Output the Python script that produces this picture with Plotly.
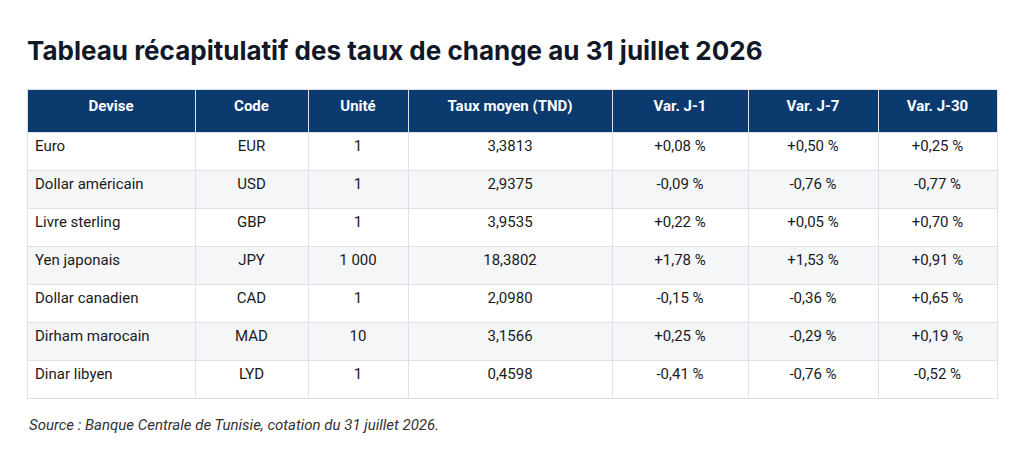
import plotly.graph_objects as go

devises = ['Euro', 'Dollar américain', 'Livre sterling', 'Yen japonais',
           'Dollar canadien', 'Dirham marocain', 'Dinar libyen']
codes = ['EUR', 'USD', 'GBP', 'JPY', 'CAD', 'MAD', 'LYD']
unites = ['1', '1', '1', '1 000', '1', '10', '1']
taux = ['3,3813', '2,9375', '3,9535', '18,3802', '2,0980', '3,1566', '0,4598']
var_j1 = ['+0,08 %', '-0,09 %', '+0,22 %', '+1,78 %', '-0,15 %', '+0,25 %', '-0,41 %']
var_j7 = ['+0,50 %', '-0,76 %', '+0,05 %', '+1,53 %', '-0,36 %', '-0,29 %', '-0,76 %']
var_j30 = ['+0,25 %', '-0,77 %', '+0,70 %', '+0,91 %', '+0,65 %', '+0,19 %', '-0,52 %']
headers = ['Devise', 'Code', 'Unité', 'Taux moyen (TND)', 'Var. J-1', 'Var. J-7', 'Var. J-30']

row_fill = ['#ffffff' if i % 2 == 0 else '#f5f6f8' for i in range(len(devises))]

# page has ~8px offset, so shift everything left/up a bit
fig = go.Figure(go.Table(
    domain=dict(x=[19 / 1024, 989 / 1024], y=[1 - 393 / 474, 1 - 81 / 474]),
    columnwidth=[168, 113, 100, 204, 136, 130, 119],
    header=dict(
        values=['<b>%s</b>' % h for h in headers],
        fill_color='#0b3a6e',
        line_color='#dde2ea',
        font=dict(family='Roboto', size=15, color='white'),
        align='center',
        height=43,
    ),
    cells=dict(
        values=[devises, codes, unites, taux, var_j1, var_j7, var_j30],
        fill_color=[row_fill] * 7,
        line_color='#dde2ea',
        font=dict(family='Roboto', size=15, color='#1a1a1a'),
        align=['left'] + ['center'] * 6,
        height=38,
    ),
))

fig.update_layout(
    width=1024, height=474,
    margin=dict(l=0, r=0, t=0, b=0),
    paper_bgcolor='white',
    title=dict(text='<b>Tableau récapitulatif des taux de change au 31 juillet 2026</b>',
               x=19 / 1024, xanchor='left', y=1 - 43 / 474, yanchor='middle',
               font=dict(family='Inter', size=26, color='#111827')),
    annotations=[dict(text='<i>Source : Banque Centrale de Tunisie, cotation du 31 juillet 2026.</i>',
                      x=19 / 1024, xref='paper', xanchor='left',
                      y=1 - 417 / 474, yref='paper', yanchor='middle',
                      showarrow=False, font=dict(family='Roboto', size=15, color='#333333'))],
)

fig.write_html("out.html")
